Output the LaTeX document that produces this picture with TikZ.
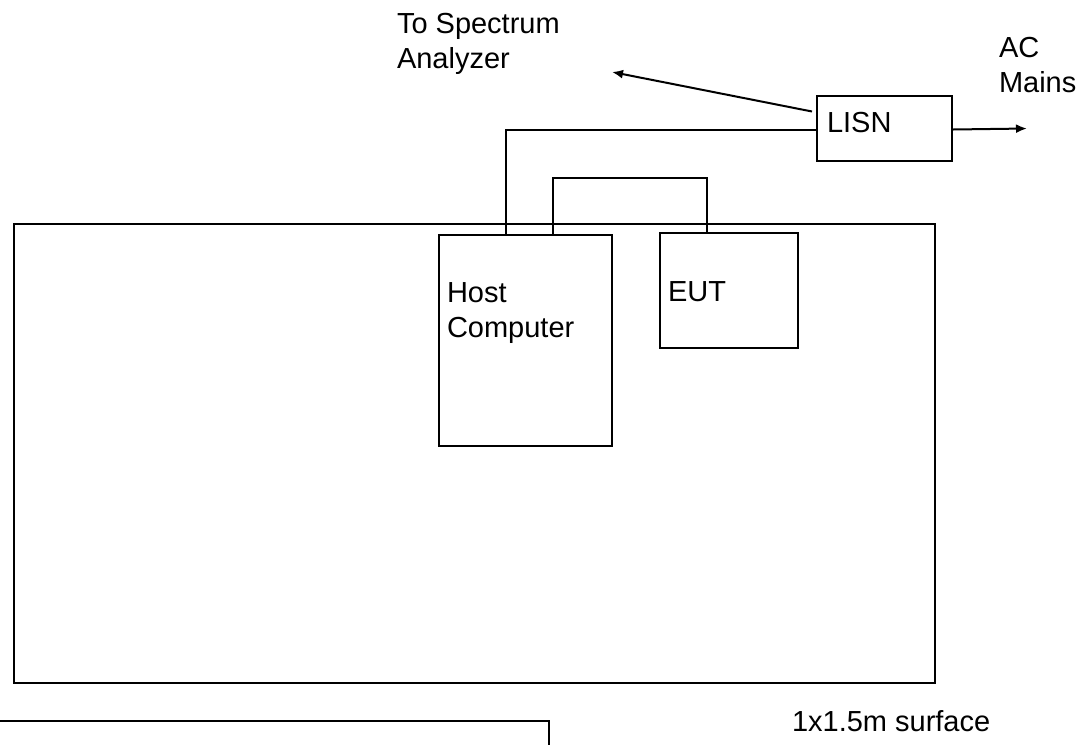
\documentclass[tikz,border=0pt]{standalone}
\usepackage{fontspec}
\setmainfont{Liberation Sans}
\usepackage{tikz}
\usetikzlibrary{shapes,arrows.meta,positioning,calc}

\begin{document}
\begin{tikzpicture}[x=0.5pt, y=-0.5pt, line width=1pt,
    >={Latex[length=5.5pt,width=4.5pt]},
    box/.style={draw, rectangle, inner sep=0pt, anchor=north west},
    lbl/.style={inner sep=0pt, anchor=base west, align=left, font=\fontsize{14.5}{17.5}\selectfont}]
    \useasboundingbox (0,0) rectangle (1084,745);
    \clip (0,0) rectangle (1084,745);
    % surfaces
    \node[box, minimum width=460.5pt, minimum height=229.5pt] (table) at (13,223) {};
    \node[box, minimum width=290pt, minimum height=60pt] (bench) at (-32,720) {};
    % equipment
    \node[box, minimum width=86.5pt, minimum height=105.5pt] (host) at (438,234) {};
    \node[box, minimum width=69pt, minimum height=57.5pt] (eut) at (659,232) {};
    \node[box, minimum width=67.5pt, minimum height=32.5pt] (lisn) at (816,95) {};
    \node[lbl] (hostlbl) at (446,337) {Host\\Computer};
    \node[lbl] (eutlbl) at (667,301) {EUT};
    \node[lbl] (lisnlbl) at (826,132) {LISN};
    \node[lbl] (salbl) at (396,68) {To Spectrum\\Analyzer};
    \node[lbl] (aclbl) at (998,92) {AC\\Mains};
    \node[lbl] (surflbl) at (791,731) {1x1.5m surface};
    % cables
    \coordinate (saend) at (612,72);
    \coordinate (acend) at (1027,128.5);
    \draw ($(host.north west)+(68,0)$) |- ($(lisn.west)+(0,1.5)$);
    \draw ($(host.north west)+(115,0)$) -- ++(0,-56) -| ($(eut.north west)+(48,0)$);
    \draw[->] ($(lisn.west)+(-4,-17)$) -- (saend);
    \draw[->] ($(lisn.east)+(0,1)$) -- (acend);
\end{tikzpicture}
\end{document}
